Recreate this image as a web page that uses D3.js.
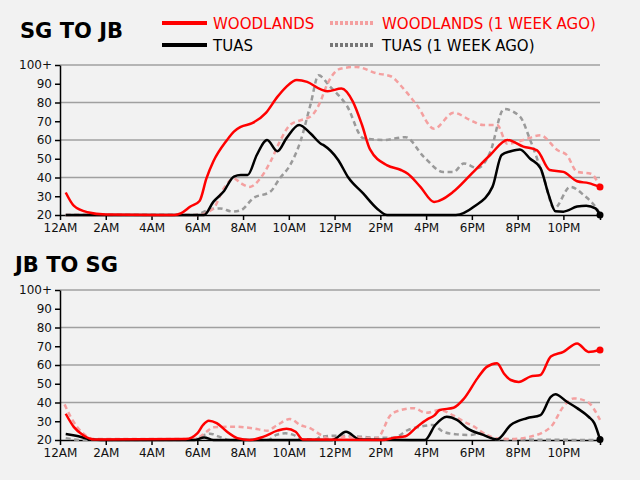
<!DOCTYPE html>
<html>
<head>
<meta charset="utf-8">
<script src="https://cdn.jsdelivr.net/npm/d3@7"></script>
<style>
  body { margin: 0; background: #f2f2f2; }
  svg { display: block; }
  text { font-family: "DejaVu Sans", sans-serif; }
</style>
</head>
<body>
<svg width="640" height="480"></svg>
<script>
// Hours of day and readings (minutes, 20 = 20 or less, 100 = 100+)
const hourTicks = [0, 2, 4, 6, 8, 10, 12, 14, 16, 18, 20, 22];
const hourLabels = ['12AM', '2AM', '4AM', '6AM', '8AM', '10AM', '12PM', '2PM', '4PM', '6PM', '8PM', '10PM'];
const valueTicks = [20, 30, 40, 50, 60, 70, 80, 90, 100];
const gridValues = [40, 60, 80, 100];
const lastHour = 23.6;

const seriesNames = ['WOODLANDS', 'TUAS', 'WOODLANDS (1 WEEK AGO)', 'TUAS (1 WEEK AGO)'];

// SG to JB
const sgWoodlands = [[0.25,32],[0.6,25],[1.2,21.5],[2,20.3],[5,20],[5.3,21],[5.7,24.5],[6.1,27.5],[6.4,39.5],[6.7,48.5],[7.3,60],[7.6,64.5],[7.9,67],[8.4,69],[9,74.5],[9.5,83],[9.9,88.5],[10.35,92],[10.8,91],[11.4,87],[11.7,86],[12.3,87.5],[12.8,80.5],[13.2,68],[13.55,55],[14.3,46.5],[14.9,44],[15.2,42],[15.75,35],[16.35,27],[17.2,32.5],[17.95,41.5],[18.8,52],[19.55,60],[20.25,56.5],[20.85,54.5],[21.4,44],[22,43],[22.6,38],[23.1,37],[23.6,35]];
const sgTuas = [[0.25,20],[6.3,20],[6.7,27],[7.15,32.5],[7.6,40.5],[7.9,41.3],[8.2,41.3],[8.6,52],[9.05,60],[9.5,54],[9.9,61],[10.45,68],[10.95,63.5],[11.4,58],[11.55,57],[12.15,49.5],[12.6,40],[13.25,31.5],[13.85,23.5],[14.3,20],[17.3,20],[18.1,24.5],[18.9,35],[19.3,52],[19.7,54],[20.1,55],[20.55,50],[21,45],[21.35,31],[21.65,22],[22,21.8],[22.6,24.5],[23,25],[23.4,23.5],[23.6,20]];
const sgWoodlandsWeek = [[0.25,20],[6,20],[6.7,23.5],[7.15,34],[7.6,39.5],[7.9,37],[8.3,35],[8.75,39.5],[9.2,48.5],[9.6,59],[10.05,68],[10.5,70.5],[10.95,72.5],[11.4,81],[11.6,87.5],[12.25,98],[12.95,99],[13.85,95.5],[14.45,94],[15,87.5],[15.6,78.5],[16.35,66],[17.2,74.5],[17.95,70.5],[18.5,68],[19.1,68],[19.55,58],[20.25,60],[21,62.5],[21.75,54.5],[22.15,52],[22.6,43],[23.2,42],[23.6,35]];
const sgTuasWeek = [[0.25,20],[5.9,20],[6.55,23],[7,23.5],[7.55,21.8],[7.9,22.5],[8.45,29],[9.2,32.5],[9.6,39.5],[10.05,46.5],[10.5,59],[10.95,79],[11.3,94.5],[11.8,88.5],[12.55,78],[13.25,61],[14.15,60],[15.1,61.5],[15.9,51],[16.75,43],[17.2,43],[17.65,47.5],[18.25,45],[18.8,53.5],[19.4,76.5],[20.1,72.5],[20.55,60],[21.15,39.5],[21.6,23.5],[22.3,35],[22.9,30.5],[23.45,23.5],[23.6,20.5]];

// JB to SG
const jbWoodlands = [[0.25,34],[0.6,27],[1,22.7],[1.5,20.3],[5.5,20.5],[6,23.5],[6.25,28],[6.5,30.3],[6.85,29],[7.3,24.4],[7.75,21],[8.3,20],[8.9,21.8],[9.5,25],[9.9,26],[10.3,24.4],[10.6,20.3],[14.1,20],[14.6,21.2],[15.1,22],[15.6,27],[16.05,31],[16.35,33],[16.6,36],[17.2,37.2],[17.65,42],[18.25,53],[18.65,59],[19.1,61],[19.4,55.5],[19.7,52],[20.05,51],[20.55,53.8],[21,54.7],[21.45,64.5],[22,67],[22.6,71.5],[23.1,67],[23.6,68]];
const jbTuas = [[0.25,23.2],[0.7,22.3],[1.3,20.4],[1.8,20],[5.9,20],[6.3,21.4],[6.7,20],[11.9,20],[12.5,24.4],[13.1,20.3],[15.95,20],[16.4,28],[16.9,32.4],[17.35,30.7],[17.8,26.2],[18.5,22.7],[19.1,20.3],[19.7,28],[20.4,31.6],[21,33.3],[21.45,43],[21.65,44.4],[22.15,40.4],[22.6,37],[23.1,32.4],[23.35,29],[23.6,20.3]];
const jbWoodlandsWeek = [[0.2,39],[0.5,31.6],[1,23.6],[1.5,20.5],[5.9,20.5],[6.4,24.4],[6.7,26.8],[7.6,27.1],[8.45,26.2],[9.05,25],[9.5,28],[10.05,31.2],[10.5,28],[10.95,26.2],[11.4,22.7],[11.8,20.5],[12.4,21.8],[13.1,21.2],[13.85,20.9],[14.45,33.3],[14.9,36],[15.45,37],[16,34.5],[16.6,36],[17.2,33],[17.65,29.8],[18.1,27.1],[18.65,22.7],[19.1,20.9],[19.7,20.5],[20.55,21.8],[21.45,27],[22,37.8],[22.45,42.2],[23.05,40.4],[23.6,30.7]];
const jbTuasWeek = [[0.25,21],[1,20],[5.8,20],[6.3,22.7],[6.55,23.4],[6.95,21.8],[7.4,20],[9.1,20],[9.45,22.7],[9.85,23.6],[10.2,22.7],[10.6,20.4],[11.2,20.4],[11.4,21.8],[12.1,22.3],[13.1,21.8],[13.9,21.2],[14.6,21.2],[15.2,25.3],[15.75,27.1],[16.3,28],[16.75,24.4],[17.35,23],[17.95,22.7],[18.35,23.6],[19.1,20.4],[23.6,20]];

const RED = '#ff0000';
const PINK = '#f4a0a0';
const GREY = '#9a9a9a';

let svg = d3.select('svg');

let x = d3.scaleLinear().domain([0, lastHour]).range([60, 600]);

// Draws one panel (title, axes, grid and four lines)
function drawPanel(title, titleX, titleY, top, bottom, data)
{
	let y = d3.scaleLinear().domain([20, 100]).range([bottom, top]);
	let g = svg.append('g');

	g.append('text')
		.attr('x', titleX).attr('y', titleY)
		.attr('font-size', 21).attr('font-weight', 'bold')
		.attr('fill', '#000')
		.text(title);

	// grid
	g.selectAll('line.grid').data(gridValues).enter()
		.append('line')
		.attr('x1', x(0)).attr('x2', x(lastHour))
		.attr('y1', d => y(d)).attr('y2', d => y(d))
		.attr('stroke', '#a0a0a0').attr('stroke-width', 1.5);

	let yAxis = d3.axisLeft(y)
		.tickValues(valueTicks)
		.tickFormat(d => d == 100 ? '100+' : d)
		.tickSize(5).tickSizeOuter(0);
	let ya = g.append('g').attr('transform', 'translate(60,0)').call(yAxis);

	let xAxis = d3.axisBottom(x)
		.tickValues(hourTicks.concat([lastHour]))
		.tickFormat(d => { let i = hourTicks.indexOf(d); return i < 0 ? '' : hourLabels[i]; })
		.tickSize(5).tickSizeOuter(0);
	let xa = g.append('g').attr('transform', 'translate(0,' + bottom + ')').call(xAxis);

	[ya, xa].forEach(a => {
		a.selectAll('text').attr('font-size', 12).attr('fill', '#111')
			.attr('font-family', '"DejaVu Sans", sans-serif');
		a.select('.domain').attr('stroke', '#000').attr('stroke-width', 1.5);
		a.selectAll('.tick line').attr('stroke', '#000').attr('stroke-width', 1.5);
	});

	let line = d3.line()
		.x(d => x(d[0]))
		.y(d => y(Math.max(20, d[1])))
		.curve(d3.curveMonotoneX);

	let styles = [
		{ d: data[3], color: GREY, dash: '5,3.5' },
		{ d: data[2], color: PINK, dash: '5,3.5' },
		{ d: data[1], color: '#000', dash: null },
		{ d: data[0], color: RED, dash: null }
	];
	styles.forEach(s => {
		g.append('path')
			.attr('d', line(s.d))
			.attr('fill', 'none')
			.attr('stroke', s.color)
			.attr('stroke-width', 2.5)
			.attr('stroke-dasharray', s.dash);
	});

	// end dots for current series
	[data[1], data[0]].forEach((d, i) => {
		let last = d[d.length - 1];
		g.append('circle')
			.attr('cx', x(last[0])).attr('cy', y(Math.max(20, last[1])))
			.attr('r', 3.5)
			.attr('fill', i == 0 ? '#000' : RED);
	});
}

// Legend
function drawLegend()
{
	let items = [
		{ name: seriesNames[0], color: RED, text: RED, dash: null, lx: 162, ly: 23 },
		{ name: seriesNames[1], color: '#000', text: '#000', dash: null, lx: 162, ly: 45 },
		{ name: seriesNames[2], color: PINK, text: RED, dash: '3,2', lx: 330, ly: 23 },
		{ name: seriesNames[3], color: '#777', text: '#000', dash: '3,2', lx: 330, ly: 45 }
	];
	let lg = svg.append('g');
	items.forEach((it, i) => {
		let w = i < 2 ? 45 : 44;
		lg.append('line')
			.attr('x1', it.lx).attr('x2', it.lx + w)
			.attr('y1', it.ly).attr('y2', it.ly)
			.attr('stroke', it.color).attr('stroke-width', 4)
			.attr('stroke-dasharray', it.dash);
		lg.append('text')
			.attr('x', i < 2 ? 213 : 382).attr('y', it.ly + 6)
			.attr('font-size', 15)
			.attr('fill', it.text)
			.text(it.name);
	});
}

drawLegend();
drawPanel('SG TO JB', 20, 38, 65, 215, [sgWoodlands, sgTuas, sgWoodlandsWeek, sgTuasWeek]);
drawPanel('JB TO SG', 15, 272, 290, 440, [jbWoodlands, jbTuas, jbWoodlandsWeek, jbTuasWeek]);
</script>
</body>
</html>
